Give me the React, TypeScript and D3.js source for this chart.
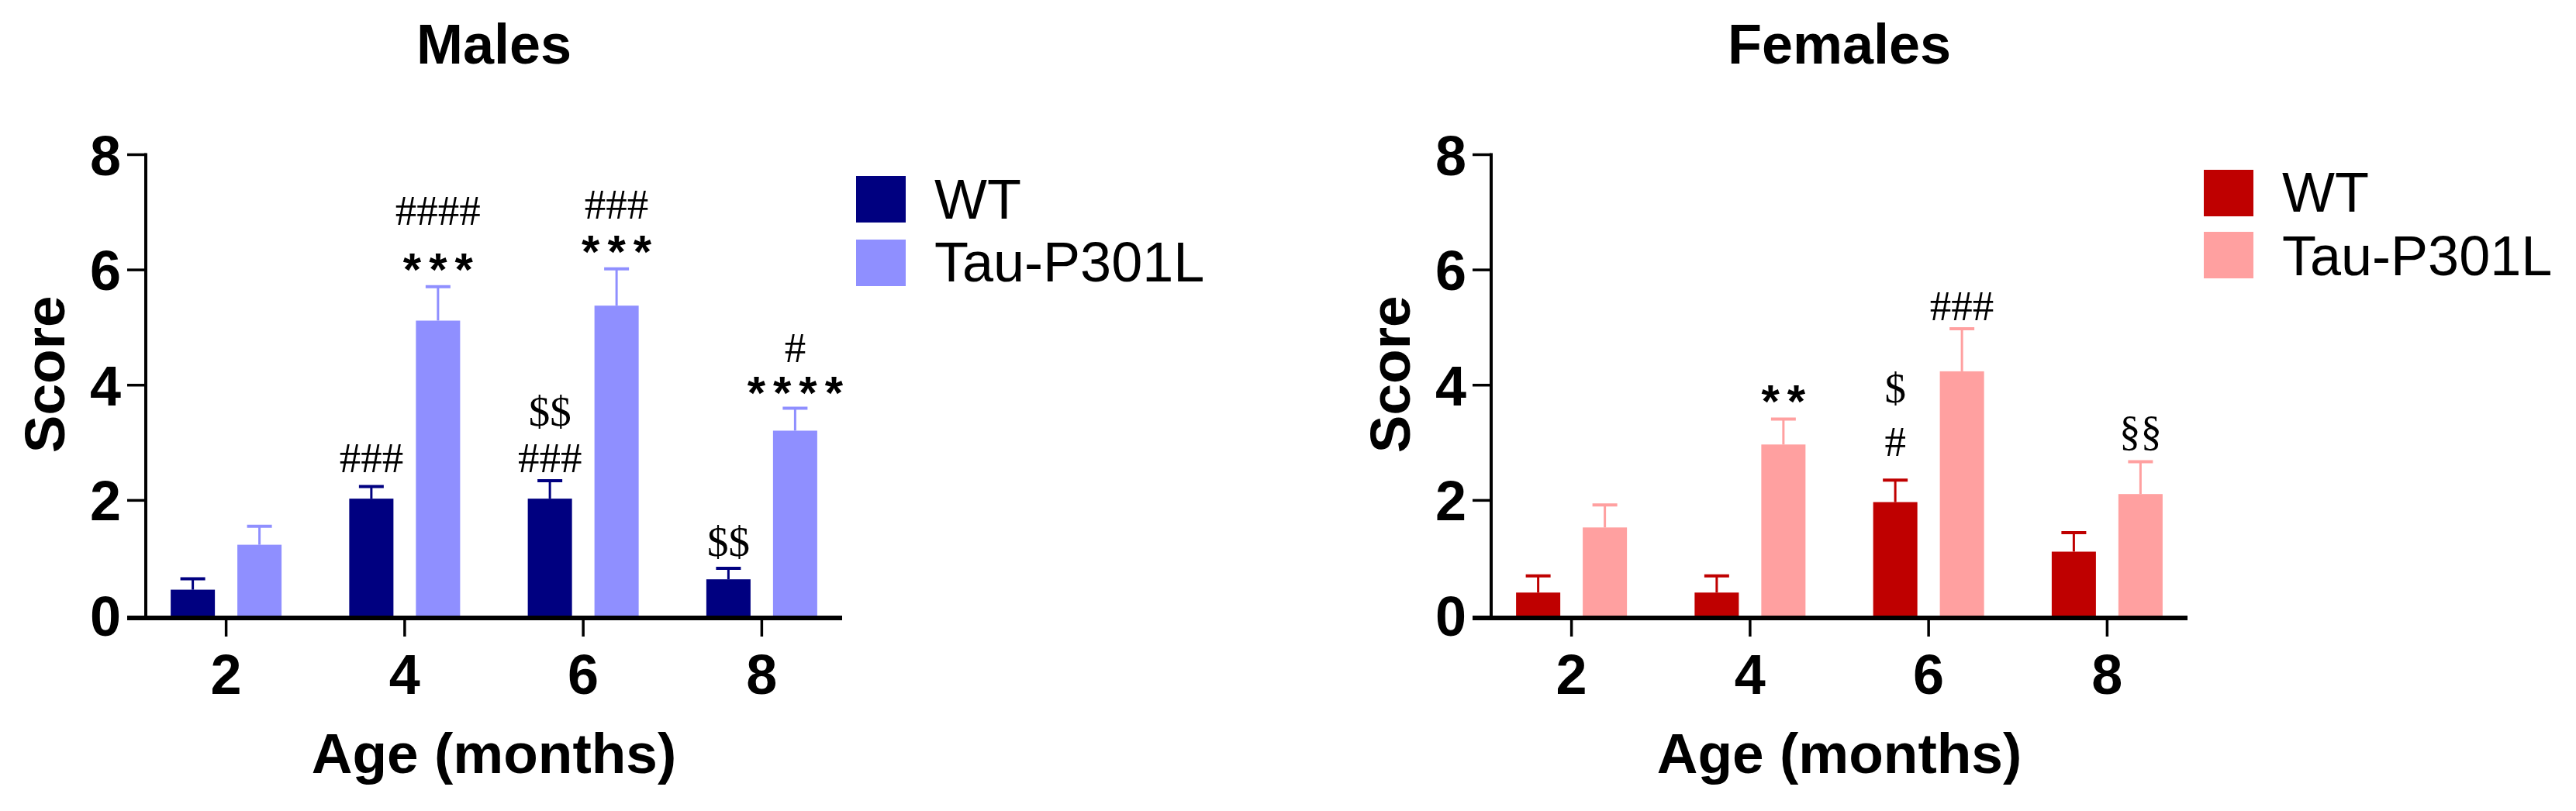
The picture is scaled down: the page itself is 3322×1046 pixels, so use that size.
import React, { useEffect, useRef } from 'react';
import * as d3 from 'd3';

// ages on the x axis
const ages = [2, 4, 6, 8];
const seriesNames = ['WT', 'Tau-P301L'];

// mean scores and SEM
const maleWT = [0.45, 2.03, 2.03, 0.63];
const maleWTErr = [0.19, 0.21, 0.31, 0.19];
const maleTau = [1.23, 5.12, 5.38, 3.21];
const maleTauErr = [0.32, 0.59, 0.64, 0.39];

const femaleWT = [0.4, 0.4, 1.97, 1.11];
const femaleWTErr = [0.29, 0.29, 0.38, 0.33];
const femaleTau = [1.53, 2.97, 4.24, 2.11];
const femaleTauErr = [0.39, 0.44, 0.74, 0.56];

const yTicks = [0, 2, 4, 6, 8];

// significance marks: age, series, text, score level of the glyph centre
const maleMarks = [
  { age: 4, series: 'WT', text: '###', y: 2.74 },
  { age: 4, series: 'Tau-P301L', text: '***', y: 6.19 },
  { age: 4, series: 'Tau-P301L', text: '####', y: 7.03 },
  { age: 6, series: 'WT', text: '###', y: 2.74 },
  { age: 6, series: 'WT', text: '$$', y: 3.54 },
  { age: 6, series: 'Tau-P301L', text: '***', y: 6.5 },
  { age: 6, series: 'Tau-P301L', text: '###', y: 7.14 },
  { age: 8, series: 'WT', text: '$$', y: 1.27 },
  { age: 8, series: 'Tau-P301L', text: '****', y: 4.05 },
  { age: 8, series: 'Tau-P301L', text: '#', y: 4.65 },
];

const femaleMarks = [
  { age: 4, series: 'Tau-P301L', text: '**', y: 3.9 },
  { age: 6, series: 'WT', text: '#', y: 3.02 },
  { age: 6, series: 'WT', text: '$', y: 3.94 },
  { age: 6, series: 'Tau-P301L', text: '###', y: 5.38 },
  { age: 8, series: 'Tau-P301L', text: '§§', y: 3.17 },
];

const SANS = '"Liberation Sans", Arial, sans-serif';
const SERIF = '"Liberation Serif", "Times New Roman", serif';

export default function App() {
  const svgRef = useRef<SVGSVGElement>(null);

  useEffect(() => {
    const width = 3322;
    const height = 1046;
    document.body.style.margin = '0';

    const svg = d3.select(svgRef.current).attr('width', width).attr('height', height);
    svg.selectAll('*').remove();
    svg.append('rect').attr('width', width).attr('height', height).attr('fill', '#fff');

    const panels = [
      {
        title: 'Males', left: 188, values: [maleWT, maleTau], errs: [maleWTErr, maleTauErr],
        colors: ['#000080', '#8F8FFF'], marks: maleMarks,
        legendX: 1104, legendY: [227, 309], legendBase: [282, 363],
      },
      {
        title: 'Females', left: 1923, values: [femaleWT, femaleTau], errs: [femaleWTErr, femaleTauErr],
        colors: ['#BF0000', '#FFA0A0'], marks: femaleMarks,
        legendX: 2842, legendY: [219, 299], legendBase: [273, 355],
      },
    ];

    const plotW = 898;
    const y = d3.scaleLinear().domain([0, 8]).range([794, 199.5]);

    panels.forEach(p => {
      const g = svg.append('g');
      const x = d3.scalePoint<number>().domain(ages).range([p.left, p.left + plotW]).padding(0.45);
      const inner = d3.scaleBand<string>().domain(seriesNames).range([-71.5, 71.5]).paddingInner(0.337);
      const bw = inner.bandwidth();

      // bars
      seriesNames.forEach((s, si) => {
        const rows = ages.map((a, i) => ({ a, v: p.values[si][i], e: p.errs[si][i] }));
        const col = p.colors[si];
        g.selectAll(null).data(rows).enter().append('rect')
          .attr('x', d => (x(d.a) as number) + (inner(s) as number))
          .attr('y', d => y(d.v))
          .attr('width', bw)
          .attr('height', d => y(0) - y(d.v))
          .attr('fill', col);

        // upward error bars
        const eg = g.selectAll(null).data(rows).enter().append('g')
          .attr('transform', d => `translate(${(x(d.a) as number) + (inner(s) as number) + bw / 2},0)`);
        eg.append('line')
          .attr('x1', 0).attr('x2', 0)
          .attr('y1', d => y(d.v)).attr('y2', d => y(d.v + d.e))
          .attr('stroke', col).attr('stroke-width', 3);
        eg.append('line')
          .attr('x1', -16).attr('x2', 16)
          .attr('y1', d => y(d.v + d.e)).attr('y2', d => y(d.v + d.e))
          .attr('stroke', col).attr('stroke-width', 4);
      });

      // y axis
      g.append('line')
        .attr('x1', p.left).attr('x2', p.left)
        .attr('y1', y(8) - 2).attr('y2', y(0) + 3)
        .attr('stroke', '#000').attr('stroke-width', 4);
      g.selectAll(null).data(yTicks).enter().append('line')
        .attr('x1', p.left - 24).attr('x2', p.left)
        .attr('y1', d => y(d)).attr('y2', d => y(d))
        .attr('stroke', '#000').attr('stroke-width', d => (d === 0 ? 0 : 3.5));
      g.selectAll(null).data(yTicks).enter().append('text')
        .attr('x', p.left - 32)
        .attr('y', d => y(d) + 26)
        .attr('text-anchor', 'end')
        .attr('font-family', SANS).attr('font-weight', 'bold').attr('font-size', 72)
        .text(d => d);

      // x axis
      g.append('line')
        .attr('x1', p.left - 24).attr('x2', p.left + plotW)
        .attr('y1', y(0) + 3).attr('y2', y(0) + 3)
        .attr('stroke', '#000').attr('stroke-width', 6);
      g.selectAll(null).data(ages).enter().append('line')
        .attr('x1', d => x(d) as number).attr('x2', d => x(d) as number)
        .attr('y1', y(0) + 3).attr('y2', y(0) + 27)
        .attr('stroke', '#000').attr('stroke-width', 3.5);
      g.selectAll(null).data(ages).enter().append('text')
        .attr('x', d => x(d) as number)
        .attr('y', y(0) + 101)
        .attr('text-anchor', 'middle')
        .attr('font-family', SANS).attr('font-weight', 'bold').attr('font-size', 72)
        .text(d => d);

      // axis titles
      g.append('text')
        .attr('transform', `translate(${p.left - 105},${y(4) - 14}) rotate(-90)`)
        .attr('text-anchor', 'middle')
        .attr('font-family', SANS).attr('font-weight', 'bold').attr('font-size', 73)
        .text('Score');
      g.append('text')
        .attr('x', p.left + plotW / 2)
        .attr('y', y(0) + 203)
        .attr('text-anchor', 'middle')
        .attr('font-family', SANS).attr('font-weight', 'bold').attr('font-size', 73)
        .text('Age (months)');

      // panel title
      g.append('text')
        .attr('x', p.left + plotW / 2)
        .attr('y', 82)
        .attr('text-anchor', 'middle')
        .attr('font-family', SANS).attr('font-weight', 'bold').attr('font-size', 72)
        .text(p.title);

      // significance marks
      g.selectAll(null).data(p.marks).enter().append('text')
        .attr('x', d => (x(d.age) as number) + (inner(d.series) as number) + bw / 2 + (d.text[0] === '*' ? 5 : 0))
        .attr('y', d => {
          const c = d.text[0];
          const k = c === '*' ? 0.57 * 60 : c === '§' ? 0.28 * 55 : c === '$' ? 0.32 * 55 : 0.34 * 55;
          return y(d.y) + k;
        })
        .attr('text-anchor', 'middle')
        .attr('font-family', d => (d.text[0] === '*' ? SANS : SERIF))
        .attr('font-weight', d => (d.text[0] === '*' ? 'bold' : 'normal'))
        .attr('font-size', d => (d.text[0] === '*' ? 60 : 55))
        .attr('letter-spacing', d => (d.text[0] === '*' ? 10 : 0))
        .text(d => d.text);

      // legend
      seriesNames.forEach((s, si) => {
        g.append('rect')
          .attr('x', p.legendX).attr('y', p.legendY[si])
          .attr('width', 64).attr('height', 60)
          .attr('fill', p.colors[si]);
        g.append('text')
          .attr('x', p.legendX + 101).attr('y', p.legendBase[si])
          .attr('font-family', SANS).attr('font-size', 72)
          .text(s);
      });
    });
  }, []);

  return <svg ref={svgRef} style={{ display: 'block' }}></svg>;
}
